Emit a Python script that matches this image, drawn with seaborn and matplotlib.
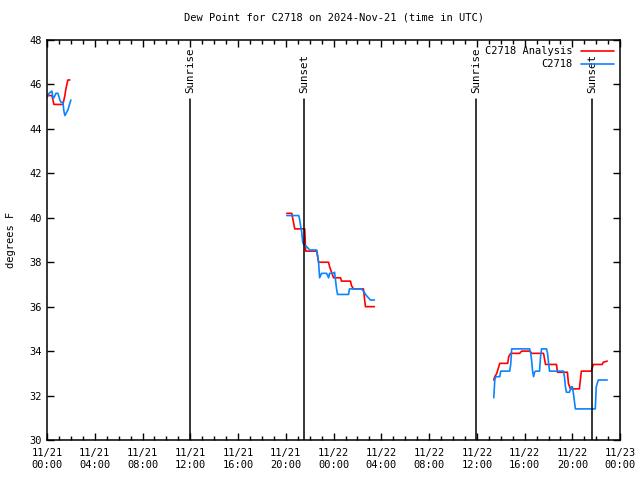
import numpy as np
import pandas as pd
import matplotlib
matplotlib.use('Agg')
import matplotlib.pyplot as plt
import matplotlib.dates as mdates
import seaborn as sns

sns.set_style('ticks', {'axes.edgecolor': 'black', 'text.color': 'black',
                        'xtick.color': 'black', 'ytick.color': 'black',
                        'axes.labelcolor': 'black'})
plt.rcParams['font.family'] = ['DejaVu Sans Mono']

# analysis (red), three pieces
ana_t1 = ['11-21 00:00', '11-21 00:25', '11-21 00:35', '11-21 01:20', '11-21 01:30',
          '11-21 01:35', '11-21 01:40', '11-21 01:45', '11-21 01:55']
ana_v1 = [45.5, 45.5, 45.1, 45.1, 45.5, 45.8, 46.0, 46.2, 46.2]
ana_t2 = ['11-21 20:05', '11-21 20:30', '11-21 20:45', '11-21 21:35', '11-21 21:40',
          '11-21 22:35', '11-21 22:45', '11-21 23:35', '11-21 23:40', '11-21 23:50',
          '11-22 00:00', '11-22 00:35', '11-22 00:40', '11-22 01:25', '11-22 01:30',
          '11-22 01:40', '11-22 02:30', '11-22 02:40', '11-22 03:25']
ana_v2 = [40.2, 40.2, 39.5, 39.5, 38.5, 38.5, 38.0, 38.0, 37.8, 37.55,
          37.3, 37.3, 37.15, 37.15, 36.95, 36.8, 36.8, 36.0, 36.0]
ana_t3 = ['11-22 13:25', '11-22 13:30', '11-22 13:40', '11-22 13:50', '11-22 13:55',
          '11-22 14:35', '11-22 14:40', '11-22 14:50', '11-22 15:35', '11-22 15:45',
          '11-22 16:25', '11-22 16:35', '11-22 17:35', '11-22 17:45', '11-22 18:40',
          '11-22 18:45', '11-22 19:35', '11-22 19:40', '11-22 19:50', '11-22 20:35',
          '11-22 20:45', '11-22 21:35', '11-22 21:45', '11-22 22:30', '11-22 22:35',
          '11-22 22:55']
ana_v3 = [32.7, 32.85, 33.0, 33.3, 33.45, 33.45, 33.75, 33.9, 33.9, 34.0,
          34.0, 33.9, 33.9, 33.4, 33.4, 33.05, 33.05, 32.55, 32.3, 32.3,
          33.1, 33.1, 33.4, 33.4, 33.5, 33.55]

# station obs (blue)
obs_t1 = ['11-21 00:00', '11-21 00:10', '11-21 00:25', '11-21 00:30', '11-21 00:35',
          '11-21 00:45', '11-21 00:55', '11-21 01:05', '11-21 01:10', '11-21 01:20',
          '11-21 01:25', '11-21 01:30', '11-21 01:45', '11-21 02:00']
obs_v1 = [45.4, 45.6, 45.7, 45.4, 45.4, 45.6, 45.6, 45.3, 45.2, 45.2,
          44.8, 44.6, 44.85, 45.3]
obs_t2 = ['11-21 20:05', '11-21 21:05', '11-21 21:10', '11-21 21:15', '11-21 21:20',
          '11-21 21:25', '11-21 21:30', '11-21 21:45', '11-21 22:00', '11-21 22:35',
          '11-21 22:40', '11-21 22:45', '11-21 22:50', '11-21 23:00', '11-21 23:25',
          '11-21 23:35', '11-21 23:40', '11-22 00:00', '11-22 00:05', '11-22 00:15',
          '11-22 00:20', '11-22 01:15', '11-22 01:20', '11-22 02:20', '11-22 02:30',
          '11-22 02:45', '11-22 03:05', '11-22 03:25']
obs_v2 = [40.1, 40.1, 39.9, 39.6, 39.35, 38.9, 38.8, 38.7, 38.55, 38.55,
          38.3, 37.95, 37.3, 37.5, 37.5, 37.3, 37.5, 37.5, 37.55, 36.8,
          36.55, 36.55, 36.8, 36.8, 36.7, 36.5, 36.3, 36.3]
obs_t3 = ['11-22 13:25', '11-22 13:30', '11-22 13:35', '11-22 13:55', '11-22 14:00',
          '11-22 14:45', '11-22 14:50', '11-22 14:55', '11-22 16:25', '11-22 16:30',
          '11-22 16:35', '11-22 16:40', '11-22 16:45', '11-22 16:50', '11-22 16:55',
          '11-22 17:15', '11-22 17:20', '11-22 17:25', '11-22 17:50', '11-22 17:55',
          '11-22 18:05', '11-22 19:15', '11-22 19:20', '11-22 19:25', '11-22 19:30',
          '11-22 19:45', '11-22 19:55', '11-22 20:00', '11-22 20:05', '11-22 20:15',
          '11-22 21:55', '11-22 22:00', '11-22 22:10', '11-22 22:55']
obs_v3 = [31.9, 32.7, 32.85, 32.85, 33.1, 33.1, 33.4, 34.1, 34.1, 33.95,
          33.6, 33.1, 32.85, 33.05, 33.1, 33.1, 33.75, 34.1, 34.1, 33.9,
          33.1, 33.1, 32.85, 32.4, 32.15, 32.15, 32.4, 32.4, 32.1, 31.4,
          31.4, 32.4, 32.7, 32.7]

sun_times = ['11-21 11:58', '11-21 21:31', '11-22 11:56', '11-22 21:38']
sun_labels = ['Sunrise', 'Sunset', 'Sunrise', 'Sunset']

rows = []
for name, pieces in [('C2718 Analysis', [(ana_t1, ana_v1), (ana_t2, ana_v2), (ana_t3, ana_v3)]),
                     ('C2718', [(obs_t1, obs_v1), (obs_t2, obs_v2), (obs_t3, obs_v3)])]:
    for k, (tt, vv) in enumerate(pieces):
        for t, v in zip(tt, vv):
            rows.append({'time': pd.Timestamp('2024-' + t), 'dewpt': v,
                         'series': name, 'seg': k})
df = pd.DataFrame(rows)

fig, ax = plt.subplots(figsize=(6.4, 4.8), dpi=100)
fig.subplots_adjust(left=0.0734, right=0.969, bottom=0.0833, top=0.9167)

sns.lineplot(data=df, x='time', y='dewpt', hue='series', units='seg', estimator=None,
             palette={'C2718 Analysis': '#ff0000', 'C2718': '#0a84ff'},
             linewidth=1.2, ax=ax)

for t, lab in zip(sun_times, sun_labels):
    ts = pd.Timestamp('2024-' + t)
    ax.plot([ts, ts], [30, 45.35], color='black', lw=1.1)
    ax.text(ts, 45.6, lab, rotation=90, ha='center', va='bottom', fontsize=7.8)

ax.set_xlim(pd.Timestamp('2024-11-21 00:00'), pd.Timestamp('2024-11-23 00:00'))
ax.set_ylim(30, 48)
ax.set_yticks(np.arange(30, 49, 2))
ax.xaxis.set_major_locator(mdates.HourLocator(byhour=range(0, 24, 4)))
ax.xaxis.set_minor_locator(mdates.HourLocator())
ax.xaxis.set_major_formatter(mdates.DateFormatter('%m/%d\n%H:%M'))
ax.tick_params(which='both', direction='in', top=True, right=True, labelsize=7.5)
ax.tick_params(which='major', length=5, width=1)
ax.tick_params(which='minor', length=3, width=1)
ax.tick_params(axis='x', pad=6)
for s in ax.spines.values():
    s.set_linewidth(1.1)

ax.set_xlabel('')
ax.set_ylabel('degrees F', fontsize=7.5, labelpad=10)
ax.set_title('Dew Point for C2718 on 2024-Nov-21 (time in UTC)', fontsize=7.5, pad=14)

leg = ax.legend(loc='upper right', frameon=False, markerfirst=False, fontsize=7.5,
                handlelength=3.2, borderaxespad=0.2, labelspacing=0.3, title=None)

fig.savefig('out.png', dpi=100)
